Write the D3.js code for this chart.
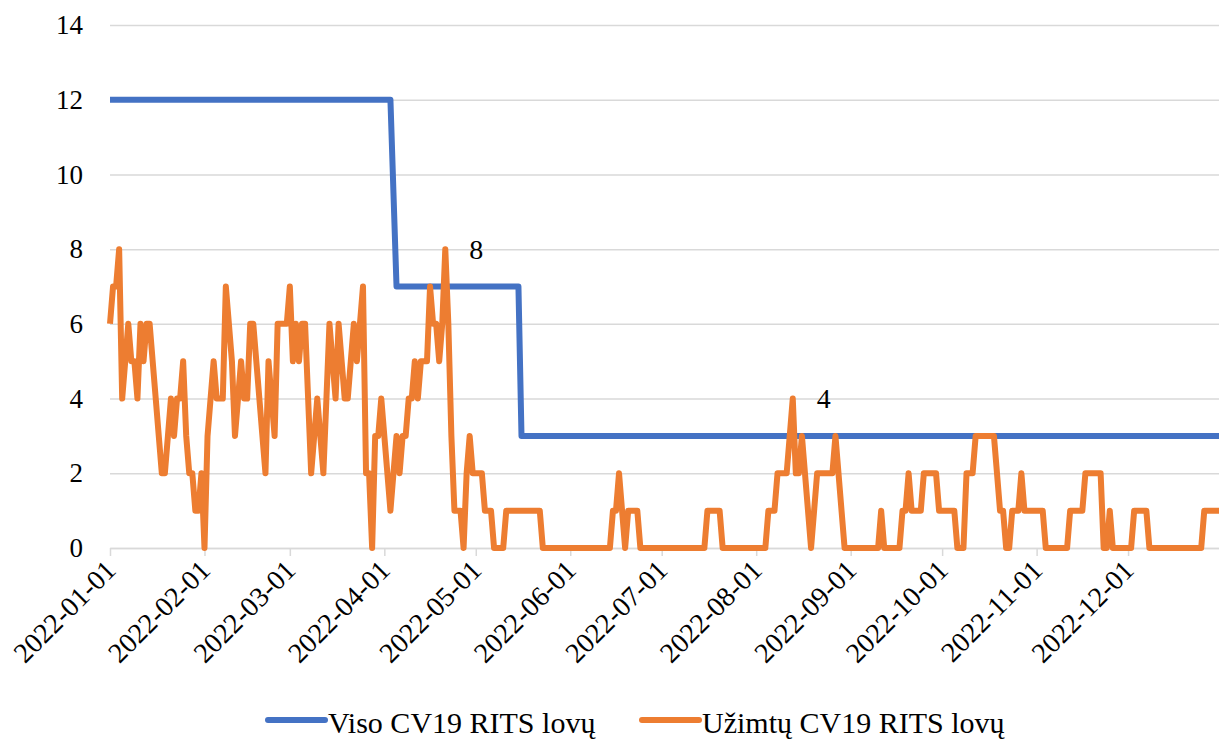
<!DOCTYPE html>
<html lang="lt">
<head>
  <meta charset="UTF-8">
  <title>CV19 RITS lovos</title>
  <style>
    body { margin: 0; background: #fff; }
  </style>
</head>
<body>

  <section class="plot"></section>

  <script src="https://cdn.jsdelivr.net/npm/d3@7/dist/d3.min.js"></script>
  <script>
    // Data
    const startDate = "2022-01-01";
    const endDate = "2022-12-31";

    // total beds (step points)
    const totalDates = ["2022-01-01", "2022-04-03", "2022-04-05", "2022-05-15", "2022-05-16", "2022-12-31"];
    const totalValues = [12, 12, 7, 7, 3, 3];

    // occupied beds, one value per day from 2022-01-01
    const occupiedValues = [
      6, 7, 7, 8, 4, 5, 6, 5, 5, 4,
      6, 5, 6, 6, 5, 4, 3, 2, 2, 3,
      4, 3, 4, 4, 5, 3, 2, 2, 1, 1,
      2, 0, 3, 4, 5, 4, 4, 4, 7, 6,
      5, 3, 4, 5, 4, 4, 6, 6, 5, 4,
      3, 2, 5, 4, 3, 6, 6, 6, 6, 7,
      5, 6, 5, 6, 6, 4, 2, 3, 4, 3,
      2, 4, 6, 5, 4, 6, 5, 4, 4, 5,
      6, 5, 6, 7, 2, 2, 0, 3, 3, 4,
      3, 2, 1, 2, 3, 2, 3, 3, 4, 4,
      5, 4, 5, 5, 5, 7, 6, 6, 5, 6,
      8, 6, 3, 1, 1, 1, 0, 2, 3, 2,
      2, 2, 2, 1, 1, 1, 0, 0, 0, 0,
      1, 1, 1, 1, 1, 1, 1, 1, 1, 1,
      1, 1, 0, 0, 0, 0, 0, 0, 0, 0,
      0, 0, 0, 0, 0, 0, 0, 0, 0, 0,
      0, 0, 0, 0, 0, 1, 1, 2, 1, 0,
      1, 1, 1, 1, 0, 0, 0, 0, 0, 0,
      0, 0, 0, 0, 0, 0, 0, 0, 0, 0,
      0, 0, 0, 0, 0, 0, 1, 1, 1, 1,
      1, 0, 0, 0, 0, 0, 0, 0, 0, 0,
      0, 0, 0, 0, 0, 0, 1, 1, 1, 2,
      2, 2, 2, 3, 4, 2, 2, 3, 2, 1,
      0, 1, 2, 2, 2, 2, 2, 2, 3, 2,
      1, 0, 0, 0, 0, 0, 0, 0, 0, 0,
      0, 0, 0, 1, 0, 0, 0, 0, 0, 0,
      1, 1, 2, 1, 1, 1, 1, 2, 2, 2,
      2, 2, 1, 1, 1, 1, 1, 1, 0, 0,
      0, 2, 2, 2, 3, 3, 3, 3, 3, 3,
      3, 2, 1, 1, 0, 0, 1, 1, 1, 2,
      1, 1, 1, 1, 1, 1, 1, 0, 0, 0,
      0, 0, 0, 0, 0, 1, 1, 1, 1, 1,
      2, 2, 2, 2, 2, 2, 0, 0, 1, 0,
      0, 0, 0, 0, 0, 0, 1, 1, 1, 1,
      1, 0, 0, 0, 0, 0, 0, 0, 0, 0,
      0, 0, 0, 0, 0, 0, 0, 0, 0, 1,
      1, 1, 1, 1, 1
    ];

    const labelDates = ["2022-04-21", "2022-08-13"];

    const yTicks = [0, 2, 4, 6, 8, 10, 12, 14];
    const xTicks = ["2022-01-01", "2022-02-01", "2022-03-01", "2022-04-01", "2022-05-01", "2022-06-01",
                    "2022-07-01", "2022-08-01", "2022-09-01", "2022-10-01", "2022-11-01", "2022-12-01"];

    const seriesNames = ["Viso CV19 RITS lovų", "Užimtų CV19 RITS lovų"];
    const seriesColors = ["#4472c4", "#ed7d31"];

    const parse = d3.timeParse("%Y-%m-%d");
    const fmt = d3.timeFormat("%Y-%m-%d");

    const total = totalDates.map((d, i) => ({ date: parse(d), value: totalValues[i] }));
    const occupied = occupiedValues.map((v, i) => ({ date: d3.timeDay.offset(parse(startDate), i), value: v }));

    // Plot
    const W = 1219, H = 742;
    const m = { left: 110, right: -0.5, top: 25, bottom: 194 };
    const FONT = "'Liberation Serif', 'Times New Roman', Times, serif";

    const svg = d3.select(".plot")
      .append("svg")
      .attr("width", W)
      .attr("height", H)
      .attr("font-family", FONT);

    const x = d3.scaleTime()
      .domain([parse(startDate), parse(endDate)])
      .range([m.left, W - m.right]);

    const y = d3.scaleLinear()
      .domain([0, 14])
      .range([H - m.bottom, m.top]);

    // grid + y labels
    const yAxis = svg.append("g")
      .attr("transform", `translate(${m.left},0)`)
      .call(d3.axisLeft(y).tickValues(yTicks).tickSize(-(W - m.left)).tickPadding(27));
    yAxis.attr("font-family", FONT).attr("font-size", 27);
    yAxis.select(".domain").remove();
    yAxis.selectAll(".tick line").attr("stroke", "#d9d9d9").attr("stroke-width", 1.5);
    yAxis.selectAll(".tick text").attr("fill", "#000");

    // x axis
    const xAxis = svg.append("g")
      .attr("transform", `translate(0,${y(0)})`)
      .call(d3.axisBottom(x)
        .tickValues(xTicks.map(parse))
        .tickFormat(fmt)
        .tickSize(8)
        .tickSizeOuter(0));
    xAxis.attr("font-family", FONT).attr("font-size", 28);
    xAxis.select(".domain").attr("stroke", "#d9d9d9").attr("stroke-width", 1.5);
    xAxis.selectAll(".tick line").attr("stroke", "#d9d9d9").attr("stroke-width", 1.5);
    xAxis.selectAll(".tick text")
      .attr("fill", "#000")
      .attr("text-anchor", "end")
      .attr("x", 0)
      .attr("y", 0)
      .attr("dy", "0.35em")
      .attr("transform", "translate(0,17) rotate(-45)");

    // lines
    const line = d3.line()
      .x(d => x(d.date))
      .y(d => y(d.value));

    [total, occupied].forEach((s, i) => {
      svg.append("path")
        .datum(s)
        .attr("fill", "none")
        .attr("stroke", seriesColors[i])
        .attr("stroke-width", 6)
        .attr("stroke-linejoin", "round")
        .attr("d", line);
    });

    // data labels
    const labels = labelDates.map(d => occupied.find(o => fmt(o.date) === d));
    svg.append("g")
      .selectAll("text")
      .data(labels)
      .enter()
      .append("text")
        .attr("x", d => x(d.date) + 31)
        .attr("y", d => y(d.value))
        .attr("dy", "0.35em")
        .attr("text-anchor", "middle")
        .attr("font-size", 28)
        .text(d => d.value);

    // legend
    const legendX = [268, 642];
    const legend = svg.append("g")
      .selectAll("g")
      .data(seriesNames)
      .enter()
      .append("g")
        .attr("transform", (d, i) => `translate(${legendX[i]},720)`);
    legend.append("line")
      .attr("x1", 0).attr("x2", 57)
      .attr("stroke", (d, i) => seriesColors[i])
      .attr("stroke-width", 6)
      .attr("stroke-linecap", "round");
    legend.append("text")
      .attr("x", 60)
      .attr("y", 13)
      .attr("font-size", 30)
      .text(d => d);
  </script>
</body>
</html>
